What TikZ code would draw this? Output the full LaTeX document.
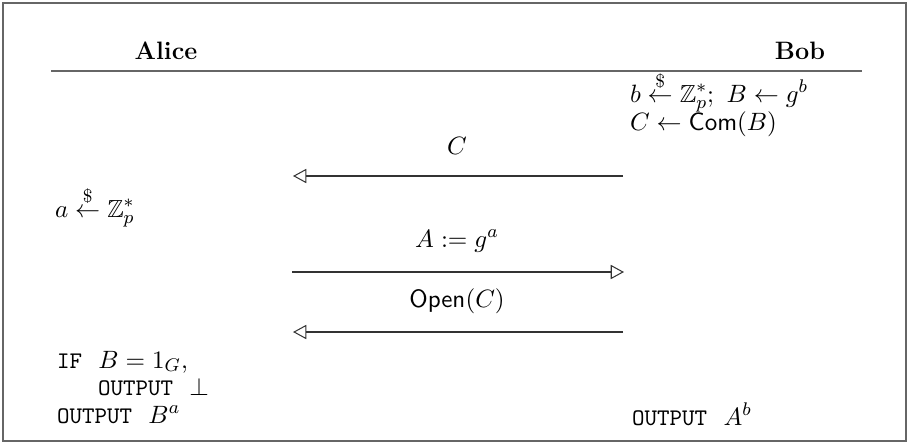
\documentclass[tikz,border=0pt]{standalone}
\usepackage{amsmath,amssymb}
\usetikzlibrary{arrows.meta}
\newcommand{\ttsm}[1]{{\fontsize{10.4}{12.5}\selectfont\ttfamily #1}}
\begin{document}
\begin{tikzpicture}[x=0.4367pt,y=-0.4367pt,
  every node/.style={font=\fontsize{10.8}{13}\selectfont},
  txt/.style={anchor=base west,inner sep=0pt,outer sep=0pt},
  head/.style={anchor=base,inner sep=0pt,font=\fontsize{11}{13}\selectfont\bfseries},
  lbl/.style={anchor=base,inner sep=0pt},
  msg/.style={draw=black!80,line width=0.45pt,-{Triangle[open,length=5.8pt,width=6.2pt]}},
  frame/.style={draw=black!60,line width=0.9pt}]
\useasboundingbox (0,0) rectangle (909,443);
\draw[frame] (3,3) rectangle (906,441);
% header
\node[head] (alice) at (166,59) {Alice};
\node[head] (bob) at (800,59) {Bob};
\coordinate (hl) at (51,71);
\coordinate (hr) at (862,71);
\draw[draw=black!60,line width=0.8pt] (hl) -- (hr);
% Bob initial
\node[txt] (b1) at (630,102) {$b \overset{\$}{\leftarrow} \mathbb{Z}_p^*;\ B \leftarrow g^b$};
\node[txt] (b2) at (630,130) {$C \leftarrow \mathsf{Com}(B)$};
% message 1
\coordinate (m1r) at (623,176);
\coordinate (m1l) at (293,176);
\node[lbl] (c) at (457,154) {$C$};
\draw[msg] (m1r) -- (m1l);
% Alice sample
\node[txt] (a1) at (55,217) {$a \overset{\$}{\leftarrow} \mathbb{Z}_p^*$};
% message 2
\coordinate (m2l) at (292,272);
\coordinate (m2r) at (624,272);
\node[lbl] (ga) at (457,247) {$A := g^a$};
\draw[msg] (m2l) -- (m2r);
% message 3
\coordinate (m3r) at (623,332);
\coordinate (m3l) at (293,332);
\node[lbl] (op) at (457,307) {$\mathsf{Open}(C)$};
\draw[msg] (m3r) -- (m3l);
% Alice final
\node[txt] (f1) at (57,368) {\ttsm{IF}\ \ $B = 1_G$,};
\node[txt] (f2) at (98,395) {\ttsm{OUTPUT}\ \ $\perp$};
\node[txt] (f3) at (57,423) {\ttsm{OUTPUT}\ \ $B^a$};
% Bob final
\node[txt] (g1) at (632,425) {\ttsm{OUTPUT}\ \ $A^b$};
\end{tikzpicture}
\end{document}
